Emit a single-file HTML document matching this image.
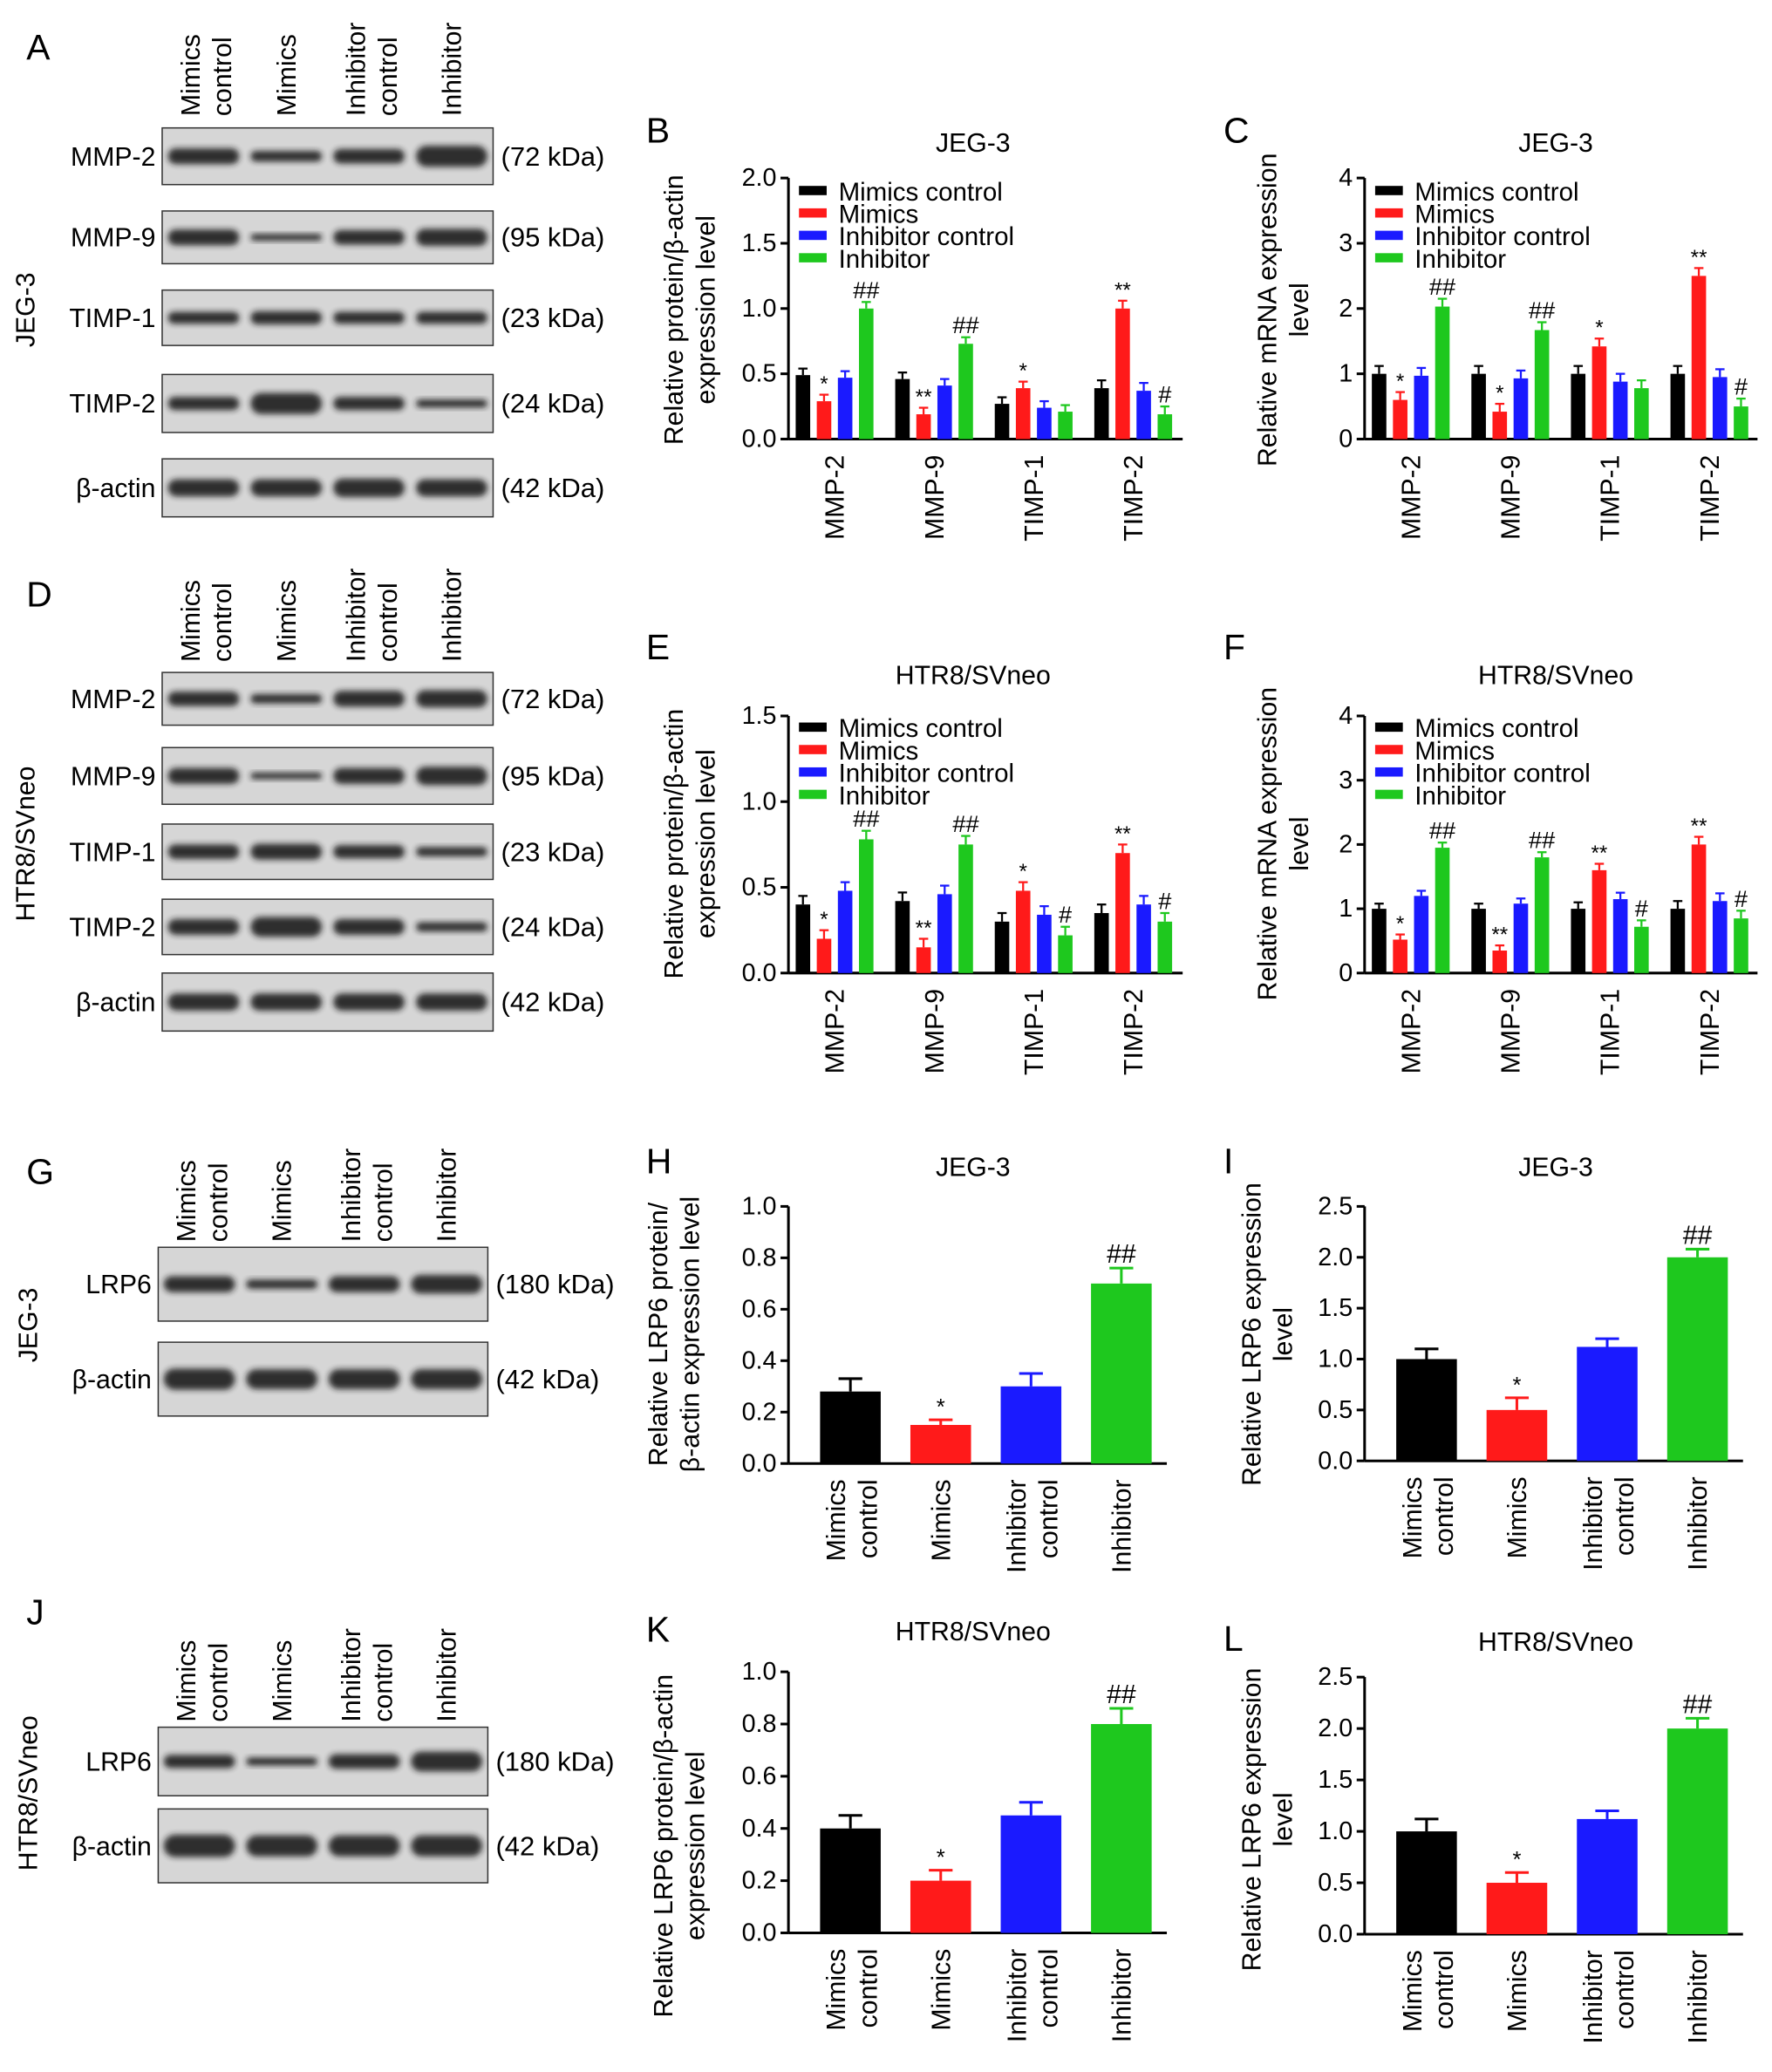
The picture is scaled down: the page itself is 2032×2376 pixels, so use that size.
<!DOCTYPE html>
<html><head><meta charset="utf-8"><style>
html,body{margin:0;padding:0;background:#fff;}
svg{display:block;font-family:"Liberation Sans",Arial,sans-serif;}
</style></head><body>
<svg id="fig" xmlns="http://www.w3.org/2000/svg" width="2032" height="2376" viewBox="0 0 1344 1571.5">
<defs><filter id="blur" x="-20%" y="-50%" width="140%" height="200%"><feGaussianBlur stdDeviation="2.2"/></filter></defs>
</svg>
<script>
// ---- chart data ----
const geneCats = ["MMP-2","MMP-9","TIMP-1","TIMP-2"];
const seriesNames = ["Mimics control","Mimics","Inhibitor control","Inhibitor"];
const seriesColors = ["#000000","#ff1a1a","#1a1aff","#1ec81e"];
const lrpCats = [["Mimics","control"],["Mimics"],["Inhibitor","control"],["Inhibitor"]];

const bMimicsCtrl = [0.49,0.46,0.27,0.39];
const bMimics = [0.29,0.19,0.39,1.0];
const bInhCtrl = [0.47,0.41,0.24,0.37];
const bInh = [1.0,0.73,0.21,0.19];
const bErr = [0.05,0.05,0.05,0.06];
const bMarks = [["","*","","##"],["","**","","##"],["","*","",""],["","**","","#"]];

const cMimicsCtrl = [1.0,1.0,1.0,1.0];
const cMimics = [0.6,0.42,1.42,2.5];
const cInhCtrl = [0.97,0.93,0.88,0.95];
const cInh = [2.03,1.67,0.78,0.5];
const cErr = [0.12,0.12,0.12,0.12];
const cMarks = [["","*","","##"],["","*","","##"],["","*","",""],["","**","","#"]];

const eMimicsCtrl = [0.40,0.42,0.30,0.35];
const eMimics = [0.20,0.15,0.48,0.70];
const eInhCtrl = [0.48,0.46,0.34,0.40];
const eInh = [0.78,0.75,0.22,0.30];
const eErr = [0.05,0.05,0.05,0.05];
const eMarks = [["","*","","##"],["","**","","##"],["","*","","#"],["","**","","#"]];

const fMimicsCtrl = [1.0,1.0,1.0,1.0];
const fMimics = [0.52,0.35,1.6,2.0];
const fInhCtrl = [1.2,1.08,1.15,1.12];
const fInh = [1.95,1.8,0.72,0.85];
const fErr = [0.08,0.08,0.1,0.12];
const fMarks = [["","*","","##"],["","**","","##"],["","**","","#"],["","**","","#"]];

const hValues = [0.28,0.15,0.30,0.70];
const hErr = [0.05,0.02,0.05,0.06];
const hMarks = ["","*","","##"];
const iValues = [1.0,0.5,1.12,2.0];
const iErr = [0.1,0.12,0.08,0.08];
const iMarks = ["","*","","##"];
const kValues = [0.40,0.20,0.45,0.80];
const kErr = [0.05,0.04,0.05,0.06];
const kMarks = ["","*","","##"];
const lValues = [1.0,0.5,1.12,2.0];
const lErr = [0.12,0.1,0.08,0.1];
const lMarks = ["","*","","##"];

const ticks20 = [0,0.5,1.0,1.5,2.0];
const ticks4 = [0,1,2,3,4];
const ticks15 = [0,0.5,1.0,1.5];
const ticks10 = [0,0.2,0.4,0.6,0.8,1.0];
const ticks25 = [0,0.5,1.0,1.5,2.0,2.5];

// ---- helpers ----
const svg=document.getElementById('fig');
const NS="http://www.w3.org/2000/svg";
function el(tag,attrs,parent,txt){const e=document.createElementNS(NS,tag);for(const k in attrs)e.setAttribute(k,attrs[k]);if(txt!==undefined)e.textContent=txt;(parent||svg).appendChild(e);return e;}
function grp(name){const g=el('g',{});return g;}
function text(g,x,y,s,opt){opt=opt||{};const t=el('text',{x:x,y:y,'font-size':opt.fs||19,'text-anchor':opt.anchor||'start',fill:'#000'},g,s);if(opt.rot)t.setAttribute('transform','rotate('+opt.rot+' '+x+' '+y+')');if(opt.name){}return t;}
function fmt(v,d){return v.toFixed(d);}

function axes(g,ax,y0,ytop,xEnd,max,ticks,dec){
  const ys=v=>y0-v/max*(y0-ytop);
  el('line',{x1:ax,y1:ytop,x2:ax,y2:y0,stroke:'#000','stroke-width':2},g);
  el('line',{x1:ax,y1:y0,x2:xEnd,y2:y0,stroke:'#000','stroke-width':2},g);
  ticks.forEach(t=>{el('line',{x1:ax-6,y1:ys(t),x2:ax,y2:ys(t),stroke:'#000','stroke-width':2},g);
    const lb=text(g,ax-9,ys(t)+6,fmt(t,dec),{fs:19,anchor:'end'});
    
    });
  return ys;
}
function ylab(g,x1,x2,cy,l1,l2){text(g,x1,cy,l1,{fs:20,anchor:'middle',rot:-90,name:'y-axis-title'});if(l2)text(g,x2,cy,l2,{fs:20,anchor:'middle',rot:-90,name:'y-axis-title'});}

function grouped(name,ax,y0,ytop,xEnd,max,ticks,dec,series,err,marks,title,tx,ty,legY,yl){
  const g=grp(name);
  const ys=axes(g,ax,y0,ytop,xEnd,max,ticks,dec);
  text(g,tx,ty,title,{fs:20,anchor:'middle',name:'chart-title'});
  const offs=[-24,-8,8,24];
  geneCats.forEach((c,i)=>{
    const cx=ax+35+i*75.5;
    series.forEach((s,j)=>{
      const bx=cx+offs[j]-5.5, top=ys(s[i]);
      const eTop=ys(s[i]+err[i]);
      el('line',{x1:bx+5.5,y1:top,x2:bx+5.5,y2:eTop,stroke:seriesColors[j],'stroke-width':1.5},g);
      el('line',{x1:bx+2,y1:eTop,x2:bx+9,y2:eTop,stroke:seriesColors[j],'stroke-width':1.5},g);
      const r=el('rect',{x:bx,y:top,width:11,height:y0-top,fill:seriesColors[j]},g);
      
      
      if(marks[i][j]) text(g,bx+5.5,eTop-3,marks[i][j],{fs:marks[i][j][0]=='#'?18:16,anchor:'middle'});
    });
    const lb=text(g,cx+7,y0+12,c,{fs:20,anchor:'end',rot:-90});
    
    
  });
  seriesNames.forEach((n,j)=>{
    const lg=el('g',{},g);
    
    
    el('rect',{x:ax+8,y:legY+j*17-5,width:21,height:7,fill:seriesColors[j]},lg);
    text(lg,ax+38,legY+j*17+6,n,{fs:19.5});
  });
  ylab(g,yl[0],yl[1],yl[2],yl[3],yl[4]);
}

function single(name,ax,y0,ytop,xEnd,max,ticks,dec,vals,err,marks,title,tx,ty,yl){
  const g=grp(name);
  const ys=axes(g,ax,y0,ytop,xEnd,max,ticks,dec);
  text(g,tx,ty,title,{fs:20,anchor:'middle',name:'chart-title'});
  vals.forEach((v,i)=>{
    const cx=ax+47+i*68.5;
    const top=ys(v), eTop=ys(v+err[i]);
    el('line',{x1:cx,y1:top,x2:cx,y2:eTop,stroke:seriesColors[i],'stroke-width':2},g);
    el('line',{x1:cx-9,y1:eTop,x2:cx+9,y2:eTop,stroke:seriesColors[i],'stroke-width':2},g);
    const r=el('rect',{x:cx-23,y:top,width:46,height:y0-top,fill:seriesColors[i]},g);
    
    
    if(marks[i]) text(g,cx,eTop-4,marks[i],{fs:marks[i][0]=='#'?20:17,anchor:'middle'});
    const lines=lrpCats[i];
    lines.forEach((s,k)=>{
      const lx=cx+7+(lines.length==2?(k==0?-11:13):0);
      const lb=text(g,lx,y0+12,s,{fs:20,anchor:'end',rot:-90});
      
      
    });
  });
  ylab(g,yl[0],yl[1],yl[2],yl[3],yl[4]);
}

// ---- blots ----
function blot(name,x0,x1,rows,heads,headY,side,sideX,sideY){
  const g=grp(name);
  const lanes=[0,1,2,3].map(i=>x0+(x1-x0)*(i+0.5)/4);
  const hx=[[-10,14],[0],[-10,14],[0]];
  heads.forEach((h,i)=>h.forEach((s,k)=>{text(g,lanes[i]+7+hx[i][k],headY,s,{fs:20,anchor:'start',rot:-90,name:'lane-header'});}));
  rows.forEach(r=>{
    const rg=el('g',{},g);
    
    
    el('rect',{x:x0,y:r.y,width:x1-x0,height:r.h,fill:'#d6d6d6',stroke:'#333','stroke-width':1},rg);
    r.w.forEach((w,i)=>{el('rect',{x:lanes[i]-27,y:r.y+r.h/2-w/2,width:54,height:w,rx:w/2,fill:'#1a1a1a',opacity:0.9,filter:'url(#blur)'},rg);});
    text(rg,x0-5,r.y+r.h/2+7,r.n,{fs:20,anchor:'end'});
    text(rg,x1+6,r.y+r.h/2+7,r.k,{fs:20.5});
  });
  text(g,sideX,sideY,side,{fs:20,anchor:'middle',rot:-90,name:'cell-line-label'});
}
const hd=[["Mimics","control"],["Mimics"],["Inhibitor","control"],["Inhibitor"]];
function L(s,x,y){const t=text(svg,x,y,s,{fs:27});}

L('A',20,45);
blot('blot-a',123,374,[
 {n:'MMP-2',y:97,h:43,k:'(72 kDa)',w:[12,8,11,16]},
 {n:'MMP-9',y:160,h:40,k:'(95 kDa)',w:[12,5,11,13]},
 {n:'TIMP-1',y:220,h:42,k:'(23 kDa)',w:[9,10,9,9]},
 {n:'TIMP-2',y:284,h:44,k:'(24 kDa)',w:[10,16,10,6]},
 {n:'β-actin',y:348,h:44,k:'(42 kDa)',w:[13,13,14,13]}],hd,88,'JEG-3',26,235);
L('D',20,460);
blot('blot-d',123,374,[
 {n:'MMP-2',y:510,h:40,k:'(72 kDa)',w:[11,7,12,13]},
 {n:'MMP-9',y:567,h:43,k:'(95 kDa)',w:[12,5,12,14]},
 {n:'TIMP-1',y:625,h:42,k:'(23 kDa)',w:[11,12,10,7]},
 {n:'TIMP-2',y:682,h:42,k:'(24 kDa)',w:[12,15,12,7]},
 {n:'β-actin',y:738,h:44,k:'(42 kDa)',w:[13,13,13,13]}],hd,502,'HTR8/SVneo',26,640);
L('G',20,898);
blot('blot-g',120,370,[
 {n:'LRP6',y:946,h:56,k:'(180 kDa)',w:[12,7,12,14]},
 {n:'β-actin',y:1018,h:56,k:'(42 kDa)',w:[16,15,15,15]}],hd,942,'JEG-3',28,1005);
L('J',20,1232);
blot('blot-j',120,370,[
 {n:'LRP6',y:1310,h:52,k:'(180 kDa)',w:[10,6,11,15]},
 {n:'β-actin',y:1372,h:56,k:'(42 kDa)',w:[17,16,16,16]}],hd,1306,'HTR8/SVneo',28,1360);

L('B',490,108);
grouped('chart-b',598,333,135,897,2.0,ticks20,1,[bMimicsCtrl,bMimics,bInhCtrl,bInh],bErr,bMarks,'JEG-3',738,115,146,[518,542,235,'Relative protein/β-actin','expression level']);
L('C',928,108);
grouped('chart-c',1035,333,135,1333,4,ticks4,0,[cMimicsCtrl,cMimics,cInhCtrl,cInh],cErr,cMarks,'JEG-3',1180,115,146,[968,992,235,'Relative mRNA expression','level']);
L('E',490,500);
grouped('chart-e',598,738,543,897,1.5,ticks15,1,[eMimicsCtrl,eMimics,eInhCtrl,eInh],eErr,eMarks,'HTR8/SVneo',738,519,553,[518,542,640,'Relative protein/β-actin','expression level']);
L('F',928,500);
grouped('chart-f',1035,738,543,1333,4,ticks4,0,[fMimicsCtrl,fMimics,fInhCtrl,fInh],fErr,fMarks,'HTR8/SVneo',1180,519,553,[968,992,640,'Relative mRNA expression','level']);
L('H',490,890);
single('chart-h',598,1110,915,885,1.0,ticks10,1,hValues,hErr,hMarks,'JEG-3',738,892,[506,530,1012,'Relative LRP6 protein/','β-actin expression level']);
L('I',928,890);
single('chart-i',1035,1108,915,1322,2.5,ticks25,1,iValues,iErr,iMarks,'JEG-3',1180,892,[956,980,1012,'Relative LRP6 expression','level']);
L('K',490,1245);
single('chart-k',598,1466,1268,885,1.0,ticks10,1,kValues,kErr,kMarks,'HTR8/SVneo',738,1244,[510,534,1400,'Relative LRP6 protein/β-actin','expression level']);
L('L',928,1252);
single('chart-l',1035,1467,1272,1322,2.5,ticks25,1,lValues,lErr,lMarks,'HTR8/SVneo',1180,1252,[956,980,1380,'Relative LRP6  expression','level']);
</script>
</body></html>
